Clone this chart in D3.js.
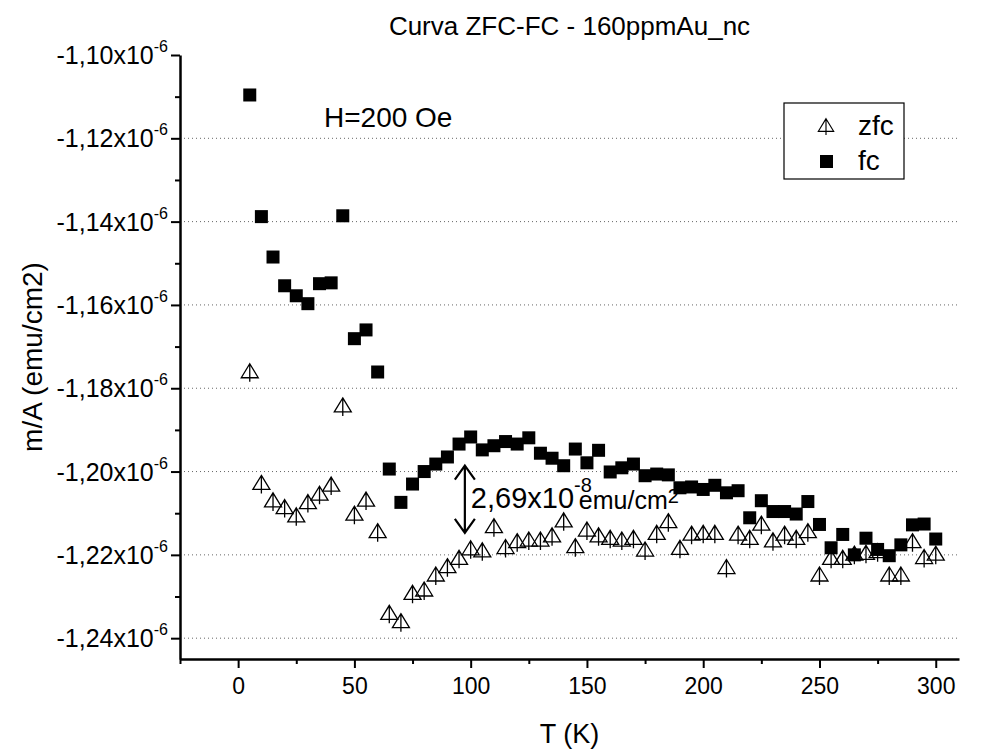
<!DOCTYPE html>
<html>
<head>
<meta charset="utf-8">
<script src="https://cdn.jsdelivr.net/npm/d3@7"></script>
<style>
  body { margin: 0; background: #fff; }
  svg { font-family: Arial, "Liberation Sans", sans-serif; }
</style>
</head>
<body>
<div id="chart"></div>
<script>
// temperature (K)
const temps = [5, 10, 15, 20, 25, 30, 35, 40, 45, 50, 55, 60, 65, 70, 75, 80, 85, 90, 95, 100,
    105, 110, 115, 120, 125, 130, 135, 140, 145, 150, 155, 160, 165, 170, 175, 180, 185, 190, 195, 200,
    205, 210, 215, 220, 225, 230, 235, 240, 245, 250, 255, 260, 265, 270, 275, 280, 285, 290, 295, 300];

// m/A in units of 1e-6 emu/cm2
const zfc = [-1.1758, -1.2026, -1.2068, -1.2084, -1.2104, -1.2072, -1.2052, -1.2030, -1.1840, -1.2100,
    -1.2066, -1.2142, -1.2338, -1.2358, -1.2290, -1.2282, -1.2246, -1.2226, -1.2206, -1.2183,
    -1.2188, -1.2130, -1.2180, -1.2166, -1.2162, -1.2162, -1.2152, -1.2116, -1.2178, -1.2138,
    -1.2152, -1.2158, -1.2162, -1.2158, -1.2186, -1.2146, -1.2118, -1.2182, -1.2148, -1.2146,
    -1.2146, -1.2228, -1.2148, -1.2158, -1.2124, -1.2164, -1.2148, -1.2158, -1.2142, -1.2246,
    -1.2206, -1.2206, -1.2196, -1.2194, -1.2190, -1.2246, -1.2246, -1.2166, -1.2204, -1.2196];

const fc = [-1.1096, -1.1388, -1.1485, -1.1554, -1.1578, -1.1597, -1.1549, -1.1547, -1.1386, -1.1681,
    -1.1660, -1.1761, -1.1994, -1.2074, -1.2030, -1.2000, -1.1982, -1.1965, -1.1934, -1.1917,
    -1.1948, -1.1938, -1.1928, -1.1934, -1.1919, -1.1956, -1.1968, -1.1986, -1.1946, -1.1979,
    -1.1949, -1.2001, -1.1991, -1.1982, -1.2010, -1.2006, -1.2008, -1.2039, -1.2037, -1.2043,
    -1.2033, -1.2051, -1.2046, -1.2111, -1.2070, -1.2096, -1.2096, -1.2102, -1.2072, -1.2127,
    -1.2183, -1.2151, -1.2200, -1.2160, -1.2187, -1.2202, -1.2176, -1.2128, -1.2126, -1.2162];

const xTicks = [0, 50, 100, 150, 200, 250, 300];
const xMinorTicks = [-25, 25, 75, 125, 175, 225, 275];
const yTicks = [-1.24, -1.22, -1.20, -1.18, -1.16, -1.14, -1.12, -1.10];
const yMinorTicks = [-1.23, -1.21, -1.19, -1.17, -1.15, -1.13, -1.11];
const yTickLabels = ["-1,24x10", "-1,22x10", "-1,20x10", "-1,18x10", "-1,16x10", "-1,14x10", "-1,12x10", "-1,10x10"];

const margin = {top: 55, right: 25, bottom: 92, left: 180},
    width = 984 - margin.left - margin.right,
    height = 751 - margin.top - margin.bottom;

const svg = d3.select("#chart")
    .append("svg")
    .attr("width", 984)
    .attr("height", 751)
    .append("g")
    .attr("transform", `translate(${margin.left},${margin.top})`);

const x = d3.scaleLinear().domain([-25, 310]).range([0, width]);
const y = d3.scaleLinear().domain([-1.245, -1.10]).range([height, 0]);

// dotted grid
svg.append("g")
    .selectAll("line")
    .data(yTicks.filter(d => d < -1.101))
    .join("line")
    .attr("x1", 0)
    .attr("x2", width)
    .attr("y1", d => y(d))
    .attr("y2", d => y(d))
    .attr("stroke", "#666")
    .attr("stroke-width", 1)
    .attr("stroke-dasharray", "1,3");

// X axis
const xAxis = svg.append("g")
    .attr("transform", `translate(0,${height})`)
    .call(d3.axisBottom(x).tickValues(xTicks).tickSize(9).tickPadding(10).tickSizeOuter(0));
xAxis.selectAll("text").style("font-size", "23px").attr("fill", "#000");
svg.append("g")
    .attr("transform", `translate(0,${height})`)
    .call(d3.axisBottom(x).tickValues(xMinorTicks).tickSize(5).tickFormat("").tickSizeOuter(0))
    .select(".domain").remove();

// Y axis
svg.append("g")
    .call(d3.axisLeft(y).tickValues(yTicks).tickSize(9).tickFormat("").tickSizeOuter(0));
svg.append("g")
    .call(d3.axisLeft(y).tickValues(yMinorTicks).tickSize(5).tickFormat("").tickSizeOuter(0))
    .select(".domain").remove();

svg.selectAll(".domain").attr("stroke-width", 2.5).attr("stroke", "#000");
svg.selectAll(".tick line").attr("stroke-width", 2).attr("stroke", "#000");

const yLab = svg.append("g")
    .selectAll("text")
    .data(yTicks)
    .join("text")
    .attr("x", -12)
    .attr("y", d => y(d) + 9)
    .attr("text-anchor", "end")
    .style("font-size", "25px");
yLab.append("tspan").text((d, i) => yTickLabels[i]);
yLab.append("tspan").attr("dy", -12).style("font-size", "16px").text("-6");

// zfc: open up triangles with a vertical stroke
const triangle = "M0,-7 L8.5,7 L-8.5,7 Z M0,-7 L0,11";
svg.append("g")
    .selectAll("path")
    .data(temps)
    .join("path")
    .attr("transform", (d, i) => `translate(${x(d)},${y(zfc[i])})`)
    .attr("d", triangle)
    .attr("fill", "none")
    .attr("stroke", "#000")
    .attr("stroke-width", 1.3);

// fc: filled squares
svg.append("g")
    .selectAll("rect")
    .data(temps)
    .join("rect")
    .attr("x", d => x(d) - 6.5)
    .attr("y", (d, i) => y(fc[i]) - 6.5)
    .attr("width", 13)
    .attr("height", 13)
    .attr("fill", "#000");

// annotation
svg.append("text")
    .attr("x", 144)
    .attr("y", 72)
    .style("font-size", "28px")
    .text("H=200 Oe");

const arrowX = x(97.5);
const aTop = y(-1.1986), aBot = y(-1.2147);
svg.append("path")
    .attr("d", `M${arrowX},${aTop} L${arrowX},${aBot} M${arrowX - 10},${aTop + 14} L${arrowX},${aTop} L${arrowX + 10},${aTop + 14} M${arrowX - 10},${aBot - 14} L${arrowX},${aBot} L${arrowX + 10},${aBot - 14}`)
    .attr("fill", "none")
    .attr("stroke", "#000")
    .attr("stroke-width", 2.2);

const note = svg.append("text")
    .attr("x", arrowX + 6)
    .attr("y", 453)
    .style("font-size", "29px");
note.append("tspan").text("2,69x10");
note.append("tspan").attr("dy", -16).style("font-size", "20px").text("-8");
note.append("tspan").attr("x", arrowX + 114).attr("dy", 17).style("font-size", "25px").text("emu/cm");
note.append("tspan").attr("dy", -6).style("font-size", "20px").text("2");

// legend
const legend = svg.append("g")
    .attr("transform", `translate(${784 - margin.left},${103 - margin.top})`);
legend.append("rect")
    .attr("width", 120)
    .attr("height", 76)
    .attr("fill", "#fff")
    .attr("stroke", "#000")
    .attr("stroke-width", 1.2);
legend.append("path")
    .attr("transform", "translate(42,22) scale(0.9)")
    .attr("d", triangle)
    .attr("fill", "none")
    .attr("stroke", "#000")
    .attr("stroke-width", 1.3);
legend.append("rect")
    .attr("x", 36)
    .attr("y", 52)
    .attr("width", 13)
    .attr("height", 13)
    .attr("fill", "#000");
legend.append("text").attr("x", 74).attr("y", 32).style("font-size", "28px").text("zfc");
legend.append("text").attr("x", 74).attr("y", 67).style("font-size", "28px").text("fc");

// titles
svg.append("text")
    .attr("x", width / 2)
    .attr("y", -20)
    .attr("text-anchor", "middle")
    .style("font-size", "26px")
    .text("Curva ZFC-FC - 160ppmAu_nc");

svg.append("text")
    .attr("x", width / 2)
    .attr("y", height + 84)
    .attr("text-anchor", "middle")
    .style("font-size", "27px")
    .text("T (K)");

svg.append("text")
    .attr("transform", `translate(${42 - margin.left},${height / 2}) rotate(-90)`)
    .attr("text-anchor", "middle")
    .style("font-size", "28px")
    .text("m/A (emu/cm2)");
</script>
</body>
</html>
